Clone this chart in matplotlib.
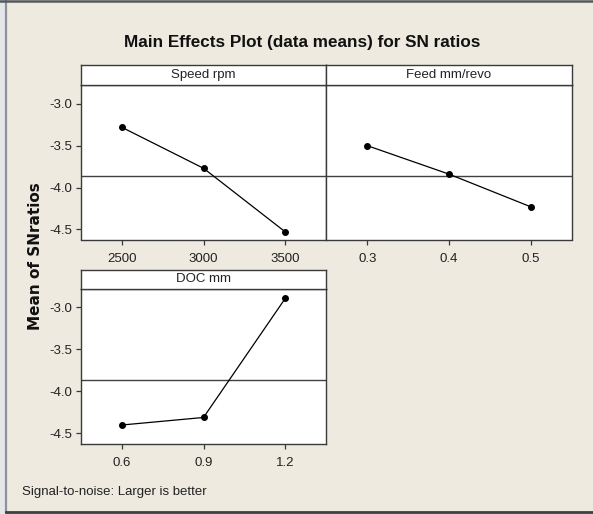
import matplotlib
matplotlib.use("Agg")
import matplotlib.pyplot as plt
from matplotlib.lines import Line2D
from matplotlib.patches import Rectangle

# ---- data ----
factor_names = ["Speed rpm", "Feed mm/revo", "DOC mm"]
speed_levels = ["2500", "3000", "3500"]
speed_sn = [-3.28, -3.77, -4.53]
feed_levels = ["0.3", "0.4", "0.5"]
feed_sn = [-3.50, -3.84, -4.23]
doc_levels = ["0.6", "0.9", "1.2"]
doc_sn = [-4.40, -4.31, -2.89]
y_ticks = [-3.0, -3.5, -4.0, -4.5]
y_limits = (-4.62, -2.78)
title_text = "Main Effects Plot (data means) for SN ratios"
ylabel_text = "Mean of SNratios"
footnote_text = "Signal-to-noise: Larger is better"

all_vals = speed_sn + feed_sn + doc_sn
grand_mean = sum(all_vals) / len(all_vals)

plt.rcParams['font.family'] = ['Liberation Sans', 'DejaVu Sans']
plt.rcParams['axes.unicode_minus'] = False

BG = "#EEEAE0"
EDGE = "#3a3a3a"
TXT = "#222222"
FS = 9.5
W, H = 593, 514
fig = plt.figure(figsize=(W / 100, H / 100), dpi=100)
fig.patch.set_facecolor(BG)


def fx(px):
    return px / W


def fy(py):
    return 1 - py / H


def panel(x0, x1, y_strip, y_top, y_bot, levels, vals, name, show_y):
    ax = fig.add_axes([fx(x0), fy(y_bot), fx(x1) - fx(x0), fy(y_top) - fy(y_bot)])
    ax.set_facecolor("white")
    xs = list(range(len(levels)))
    ax.plot(xs, vals, color="black", lw=0.9, marker="o", ms=4.0, zorder=3)
    ax.axhline(grand_mean, color="#404040", lw=1.0, zorder=2)
    ax.set_xlim(-0.5, len(levels) - 0.5)
    ax.set_ylim(*y_limits)
    ax.set_xticks(xs)
    ax.set_xticklabels(levels)
    ax.set_yticks(y_ticks)
    ax.set_yticklabels([f"{v:.1f}" for v in y_ticks])
    ax.tick_params(axis="x", length=3.5, width=0.9, color=EDGE, pad=6.5,
                   labelsize=FS, labelcolor=TXT)
    if show_y:
        ax.tick_params(axis="y", length=3.5, width=0.9, color=EDGE, pad=2.5,
                       labelsize=FS, labelcolor=TXT)
    else:
        ax.tick_params(axis="y", left=False, labelleft=False)
    for sp in ax.spines.values():
        sp.set_color(EDGE)
        sp.set_linewidth(1.0)
    sax = fig.add_axes([fx(x0), fy(y_top), fx(x1) - fx(x0), fy(y_strip) - fy(y_top)])
    sax.set_facecolor("white")
    sax.set_xticks([])
    sax.set_yticks([])
    for sp in sax.spines.values():
        sp.set_color(EDGE)
        sp.set_linewidth(1.0)
    sax.text(0.5, 0.5, name, ha="center", va="center", fontsize=FS,
             color=TXT, transform=sax.transAxes)
    return ax


panel(80.7, 326.3, 64.5, 85.3, 239.5, speed_levels, speed_sn, factor_names[0], True)
panel(326.3, 571.7, 64.5, 85.3, 239.5, feed_levels, feed_sn, factor_names[1], False)
panel(80.7, 326.3, 269.5, 289.0, 443.5, doc_levels, doc_sn, factor_names[2], True)

fig.text(fx(302), fy(42), title_text, ha="center", va="center",
         fontsize=12.3, fontweight="bold", color="#111111")
fig.text(fx(36), fy(256), ylabel_text, ha="center", va="center", rotation=90,
         fontsize=11, fontweight="bold", color="#111111",
         family=['DejaVu Sans'])
fig.text(fx(21.5), fy(492.5), footnote_text, ha="left", va="center",
         fontsize=FS, color=TXT)

# window frame
fig.add_artist(Rectangle((0, 0), fx(5), 1, transform=fig.transFigure,
                         facecolor="#E4E6EA", edgecolor="none"))
fig.add_artist(Line2D([fx(6), fx(6)], [fy(0), fy(512)], transform=fig.transFigure,
                      color="#8A929C", lw=1.6))
fig.add_artist(Line2D([fx(6), 1], [fy(512), fy(512)], transform=fig.transFigure,
                      color="#3c3f44", lw=2.0))
fig.add_artist(Line2D([0, 1], [fy(0.8), fy(0.8)], transform=fig.transFigure,
                      color="#55595f", lw=1.8))

fig.savefig("out.png", dpi=100, facecolor=fig.get_facecolor())
